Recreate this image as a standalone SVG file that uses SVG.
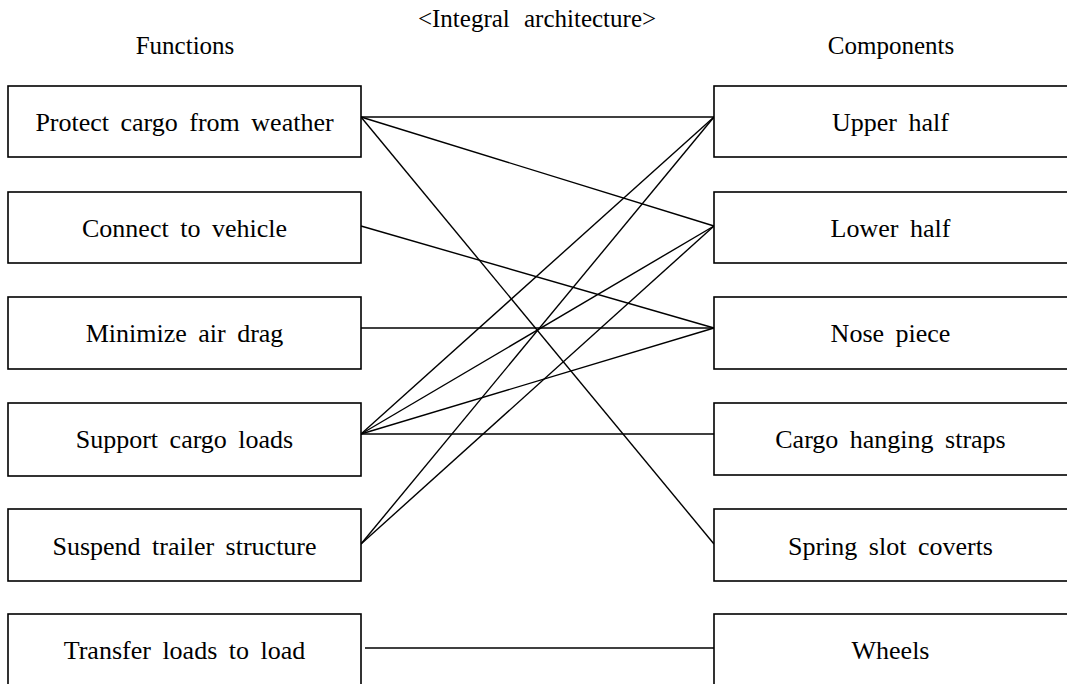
<svg xmlns="http://www.w3.org/2000/svg" width="1067" height="684" viewBox="0 0 1067 684">
  <style>
    .box { fill: #ffffff; stroke: #000000; stroke-width: 1.6; }
    .lbl { font-family: "Liberation Serif", "Times New Roman", serif; font-size: 26px; fill: #000000; text-anchor: middle; word-spacing: 5px; }
    .hdr { font-family: "Liberation Serif", "Times New Roman", serif; font-size: 25px; fill: #000000; text-anchor: middle; word-spacing: 8px; }
    .link { stroke: #000000; stroke-width: 1.4; fill: none; }
  </style>
  <rect width="1067" height="684" fill="#ffffff"/>

  <!-- headings -->
  <text class="hdr" x="537" y="27" font-size="26">&lt;Integral architecture&gt;</text>
  <text class="hdr" x="185" y="54">Functions</text>
  <text class="hdr" x="891" y="54">Components</text>

  <!-- connections between functions and components -->
  <g id="connectors">
    <line class="link" x1="361" y1="117" x2="714" y2="117"/>
    <line class="link" x1="361" y1="117" x2="714" y2="226"/>
    <line class="link" x1="361" y1="117" x2="714" y2="544"/>
    <line class="link" x1="361" y1="226" x2="714" y2="328"/>
    <line class="link" x1="361" y1="328" x2="714" y2="328"/>
    <line class="link" x1="361" y1="434" x2="714" y2="117"/>
    <line class="link" x1="361" y1="434" x2="714" y2="226"/>
    <line class="link" x1="361" y1="434" x2="714" y2="328"/>
    <line class="link" x1="361" y1="434" x2="714" y2="434"/>
    <line class="link" x1="361" y1="544" x2="714" y2="117"/>
    <line class="link" x1="361" y1="544" x2="714" y2="226"/>
    <line class="link" x1="365" y1="648" x2="714" y2="648"/>
  </g>

  <!-- function column -->
  <g id="f-protect">
    <rect class="box" x="8" y="86" width="353" height="71"/>
    <text class="lbl" x="184.5" y="131">Protect cargo from weather</text>
  </g>
  <g id="f-connect">
    <rect class="box" x="8" y="192" width="353" height="71"/>
    <text class="lbl" x="184.5" y="237">Connect to vehicle</text>
  </g>
  <g id="f-drag">
    <rect class="box" x="8" y="297" width="353" height="72"/>
    <text class="lbl" x="184.5" y="342">Minimize air drag</text>
  </g>
  <g id="f-support">
    <rect class="box" x="8" y="403" width="353" height="73"/>
    <text class="lbl" x="184.5" y="448">Support cargo loads</text>
  </g>
  <g id="f-suspend">
    <rect class="box" x="8" y="509" width="353" height="72"/>
    <text class="lbl" x="184.5" y="555">Suspend trailer structure</text>
  </g>
  <g id="f-transfer">
    <rect class="box" x="8" y="614" width="353" height="90"/>
    <text class="lbl" x="184.5" y="659">Transfer loads to load</text>
  </g>

  <!-- component column -->
  <g id="c-upper">
    <rect class="box" x="714" y="86" width="360" height="71"/>
    <text class="lbl" x="890.5" y="131">Upper half</text>
  </g>
  <g id="c-lower">
    <rect class="box" x="714" y="192" width="360" height="71"/>
    <text class="lbl" x="890.5" y="237">Lower half</text>
  </g>
  <g id="c-nose">
    <rect class="box" x="714" y="297" width="360" height="72"/>
    <text class="lbl" x="890.5" y="342">Nose piece</text>
  </g>
  <g id="c-straps">
    <rect class="box" x="714" y="403" width="360" height="72"/>
    <text class="lbl" x="890.5" y="448">Cargo hanging straps</text>
  </g>
  <g id="c-spring">
    <rect class="box" x="714" y="509" width="360" height="72"/>
    <text class="lbl" x="890.5" y="555">Spring slot coverts</text>
  </g>
  <g id="c-wheels">
    <rect class="box" x="714" y="614" width="360" height="90"/>
    <text class="lbl" x="890.5" y="659">Wheels</text>
  </g>
</svg>
